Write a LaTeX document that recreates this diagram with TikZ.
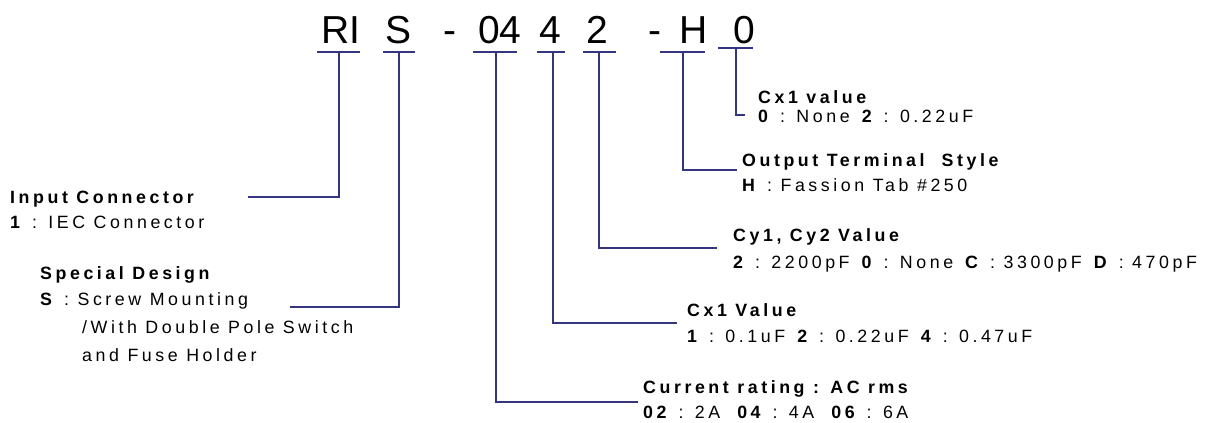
\documentclass[tikz,border=0pt]{standalone}
\usepackage{fontspec}
\setmainfont{Liberation Sans}
\newfontfamily\spaced{Liberation Sans}[LetterSpace=20]
\usetikzlibrary{positioning}
\definecolor{risNavy}{HTML}{34347F}
\tikzset{
  code/.style={font=\fontsize{39}{39}\selectfont, inner sep=0pt, anchor=base},
  ttl/.style={font=\spaced\bfseries\fontsize{17.8}{20}\selectfont, inner sep=0pt, anchor=base west},
  opt/.style={font=\spaced\fontsize{17.8}{20}\selectfont, inner sep=0pt, anchor=base west},
  lead/.style={draw=risNavy, line width=1.4pt},
}
\begin{document}
\begin{tikzpicture}[x=1pt,y=-1pt]
  \useasboundingbox (0,0) rectangle (1205,423);
  % part number
  \node[code] (cRI) at (341,43) {RI};
  \node[code] (cS)  at (399,43) {S};
  \node[code] (dA)  at (450,43) {-};
  \node[code] (c04) at (500,43) {04};
  \node[code] (c4)  at (550,43) {4};
  \node[code] (c2)  at (597,43) {2};
  \node[code] (dB)  at (655,43) {-};
  \node[code] (cH)  at (694,43) {H};
  \node[code] (c0)  at (744,43) {0};

  % T-bars under the code
  \foreach \n/\x/\l/\r/\y in {RI/339/317/360/52, S/399/383/415/52, 04/496/473/517/52,
      4/553/537/565/52, 2/599/583/616/52, H/683/660/705/52, 0/736/718/753/48}{
    \coordinate (j\n) at (\x,\y);
    \draw[lead] (\l,\y) -- (\r,\y);}

  % free ends of the leaders
  \coordinate (eRI) at (248,197);
  \coordinate (eS)  at (290,307);
  \coordinate (e04) at (638,402);
  \coordinate (e4)  at (677,323);
  \coordinate (e2)  at (717,248);
  \coordinate (eH)  at (737,170);
  \coordinate (e0)  at (745,115);
  \foreach \n in {RI,S,04,4,2,H,0}{
    \draw[lead] (j\n) |- (e\n);}

  % descriptions
  \node[ttl] (inpT) at (10,203) {Input Connector};
  \node[opt] (inpB) at (10,228) {\textbf{1} : IEC Connector};
  \node[ttl] (spcT) at (40,279) {Special Design};
  \node[opt] (spcA) at (40,305) {\textbf{S} : Screw Mounting};
  \node[opt] (spcB) at (82,333) {/With Double Pole Switch};
  \node[opt] (spcC) at (82,361) {and Fuse Holder};

  \node[ttl] (cxbT) at (758,103) {Cx1 value};
  \node[opt] (cxbB) at (758,122) {\textbf{0} : None \textbf{2} : 0.22uF};
  \node[ttl] (outT) at (742,166) {Output Terminal\ \ Style};
  \node[opt] (outB) at (742,191) {\textbf{H} : Fassion Tab \#250};
  \node[ttl] (cyT)  at (733,241) {Cy1, Cy2 Value};
  \node[opt] (cyB)  at (733,268) {\textbf{2} : 2200pF \textbf{0} : None \textbf{C} : 3300pF \textbf{D} : 470pF};
  \node[ttl] (cxaT) at (687,316) {Cx1 Value};
  \node[opt] (cxaB) at (687,342) {\textbf{1} : 0.1uF \textbf{2} : 0.22uF \textbf{4} : 0.47uF};
  \node[ttl] (curT) at (643,393) {Current rating : AC rms};
  \node[opt] (curB) at (643,418) {\textbf{02} : 2A\ \ \textbf{04} : 4A\ \ \textbf{06} : 6A};
\end{tikzpicture}
\end{document}
